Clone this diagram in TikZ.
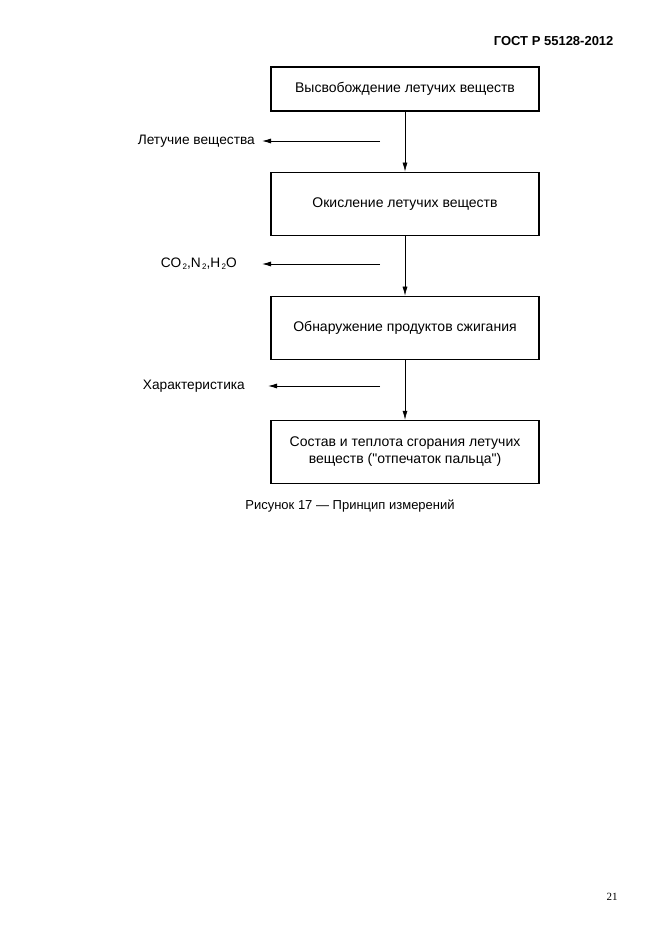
\documentclass[tikz,border=0pt]{standalone}
\usepackage{fontspec}
\setmainfont{Liberation Sans}
\newfontfamily\serifnum{Liberation Serif}
\usepackage{tikz}
\usetikzlibrary{arrows.meta,positioning}
\newcommand{\lowtwo}{\raisebox{-1.5pt}{\fontsize{8}{8}\selectfont\,2}}

\begin{document}
\begin{tikzpicture}[
  x=1pt,y=-1pt,
  node distance=60pt,
  font=\fontsize{14}{17.5}\selectfont,
  stage/.style={draw,line width=1.1pt,align=center,minimum width=268pt,minimum height=63pt,inner sep=2pt},
  side/.style={anchor=east,inner sep=0pt,font=\fontsize{13.7}{17}\selectfont},
  arr/.style={-{Latex[length=9pt,width=5pt]},line width=0.6pt},
  yield/.style={-{Latex[length=9pt,width=5pt]},line width=0.9pt}
]
\useasboundingbox (0,0) rectangle (661,936);

\node[anchor=east,font=\bfseries\fontsize{13}{15}\selectfont] (head) at (617,41) {ГОСТ Р 55128-2012};

\node[stage,minimum height=44pt] (release) at (405,89) {Высвобождение летучих веществ};
\node[stage,below=of release] (oxid) {Окисление летучих веществ};
\node[stage,below=of oxid] (detect) {Обнаружение продуктов сжигания};
\node[stage,below=of detect] (result) {Состав и теплота сгорания летучих\\веществ (\textquotedbl отпечаток пальца\textquotedbl)};

\draw[arr] (release)--(oxid);
\draw[arr] (oxid)--(detect);
\draw[arr] (detect)--(result);

% side outputs
\coordinate (src1) at (380,141);
\coordinate (tip1) at (262,141);
\coordinate (src2) at (380,264);
\coordinate (tip2) at (262,264);
\coordinate (src3) at (380,386);
\coordinate (tip3) at (268,386);
\node[side,left=7pt of tip1] (volat) {Летучие вещества};
\node[side,left=25pt of tip2] (gases) {CO\lowtwo,N\lowtwo,H\lowtwo O};
\node[side,left=23pt of tip3] (charact) {Характеристика};
\draw[yield] (src1)--(tip1);
\draw[yield] (src2)--(tip2);
\draw[yield] (src3)--(tip3);

\node[font=\fontsize{13}{15}\selectfont] (caption) at (350,506) {Рисунок 17 — Принцип измерений};
\node[font=\serifnum\fontsize{11}{13}\selectfont] (pagenum) at (612,897) {21};
\end{tikzpicture}
\end{document}
